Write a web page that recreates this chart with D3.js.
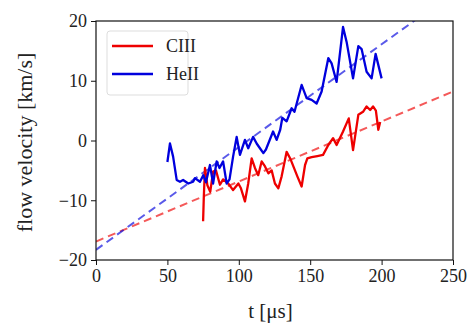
<!DOCTYPE html>
<html>
<head>
<meta charset="utf-8">
<script src="https://cdn.jsdelivr.net/npm/d3@7"></script>
<style>
  body { margin: 0; background: #fff; }
  svg text { font-family: "Liberation Serif", "DejaVu Serif", serif; fill: #222; }
</style>
</head>
<body>
<div id="chart"></div>
<script>
// CIII series
const ciiiT = [75, 75.5, 76.3, 78, 80, 82, 84, 86.8, 89, 92.6, 96, 99.7, 101.5, 104.3, 106.6, 109, 111.3, 113.6, 116, 118, 120.7, 123, 125.3, 127.7, 130, 133.5, 136, 138.5, 141, 144, 146.4, 148, 151, 155, 159, 162.7, 166, 168.5, 173, 177, 180, 183.7, 187, 189.5, 192, 194, 196, 197.7, 199]
const ciiiV = [-13.5, -9.4, -4.6, -7.5, -8.6, -5.2, -5.0, -7.4, -6.5, -7.2, -8.3, -7.2, -8.0, -10.2, -7.2, -3.0, -4.6, -5.8, -3.5, -4.2, -5.5, -5.0, -7.2, -8.0, -6.0, -1.9, -3.0, -4.5, -6.0, -7.7, -4.1, -3.0, -2.8, -2.6, -2.4, -0.75, 0.4, -0.75, 1.5, 3.7, -1.6, 4.3, 4.8, 5.7, 5.1, 5.7, 5.0, 1.8, 3.1]

// HeII series
const heiiT = [50, 51.8, 54, 56.5, 58.8, 61, 64.6, 68, 69.3, 72.8, 75.2, 77, 79.8, 82, 84.5, 86.5, 89, 91.5, 93.5, 96, 98.5, 100.8, 104.3, 106.6, 110, 112.5, 114.8, 117.2, 119, 124, 126.5, 129, 130.5, 133.5, 137, 139, 144, 147.5, 151, 154.5, 158, 162.7, 165, 168.5, 173, 175.5, 180, 183.7, 186, 189.5, 193, 195.8, 200]
const heiiV = [-3.6, -0.5, -2.7, -6.6, -6.9, -6.6, -7.2, -6.9, -6.3, -6.9, -5.8, -7.0, -4.1, -7.2, -3.5, -4.6, -3.5, -7.2, -6.5, -2.7, 0.6, -2.4, 0.1, -1.3, 0.6, -0.5, -1.3, -2.1, -1.5, 1.5, 0.1, 1.8, 3.8, 3.2, 5.4, 4.8, 9.3, 7.1, 6.8, 6.2, 8.2, 13.8, 12.9, 9.8, 19, 16.5, 10.4, 15.8, 15.3, 11.5, 10.4, 14.5, 10.4]

// linear fits (dashed)
const fitT = [0, 250]
const ciiiFit = [-16.9, 8.2]
const heiiFit = [-18.3, 24.7]

const xTicks = [0, 50, 100, 150, 200, 250]
const yTicks = [-20, -10, 0, 10, 20]
const seriesNames = ['CIII', 'HeII']
const seriesColors = ['#ee0000', '#0000dd']

const totalWidth = 472
const totalHeight = 323
const marginLeft = 96
const marginTop = 21
const width = 453 - marginLeft
const height = 260 - marginTop

const svg = d3.select('#chart')
  .append('svg')
    .attr('width', totalWidth)
    .attr('height', totalHeight)

const chart = svg.append('g')
  .attr('transform', `translate(${marginLeft},${marginTop})`)

const x = d3.scaleLinear().domain([0, 250]).range([0, width])
const y = d3.scaleLinear().domain([-20, 20]).range([height, 0])

svg.append('defs').append('clipPath')
  .attr('id', 'plot-clip')
  .append('rect')
    .attr('width', width)
    .attr('height', height)

const line = d3.line()
  .x(d => x(d[0]))
  .y(d => y(d[1]))

const plot = chart.append('g').attr('clip-path', 'url(#plot-clip)')

// fitted lines
const fits = [ciiiFit, heiiFit]
fits.forEach((f, i) => {
  plot.append('path')
    .datum(d3.zip(fitT, f))
    .attr('d', line)
    .attr('fill', 'none')
    .attr('stroke', seriesColors[i])
    .attr('stroke-opacity', 0.65)
    .attr('stroke-width', 2)
    .attr('stroke-dasharray', '8,5')
})

// data lines
const series = [d3.zip(ciiiT, ciiiV), d3.zip(heiiT, heiiV)]
series.forEach((s, i) => {
  plot.append('path')
    .datum(s)
    .attr('d', line)
    .attr('fill', 'none')
    .attr('stroke', seriesColors[i])
    .attr('stroke-width', 2.3)
    .attr('stroke-linejoin', 'round')
})

// axes
const xAxis = chart.append('g')
  .attr('transform', `translate(0,${height})`)
  .call(d3.axisBottom(x).tickValues(xTicks).tickSize(5).tickPadding(4).tickFormat(d3.format('d')))
const yAxis = chart.append('g')
  .call(d3.axisLeft(y).tickValues(yTicks).tickSize(5).tickPadding(4).tickFormat(d => d < 0 ? '\u2212' + Math.abs(d) : d))

;[xAxis, yAxis].forEach(a => {
  a.attr('font-family', null).attr('font-size', null)
  a.select('.domain').remove()
  a.selectAll('.tick line').attr('stroke', '#111').attr('stroke-width', 1)
  a.selectAll('.tick text')
    .style('font-family', '"Liberation Serif", serif')
    .style('font-size', '18px')
    .style('fill', '#222')
})

chart.append('rect')
  .attr('width', width)
  .attr('height', height)
  .attr('fill', 'none')
  .attr('stroke', '#111')
  .attr('stroke-width', 1.2)

// axis labels
svg.append('text')
  .attr('x', marginLeft + width / 2 - 4)
  .attr('y', 318)
  .attr('text-anchor', 'middle')
  .style('font-size', '21px')
  .text('t [\u03bcs]')

svg.append('text')
  .attr('transform', `translate(32,${marginTop + height / 2 + 2}) rotate(-90)`)
  .attr('text-anchor', 'middle')
  .style('font-size', '22px')
  .text('flow velocity [km/s]')

// legend
const legend = chart.append('g')
  .attr('transform', 'translate(11,10)')

legend.append('rect')
  .attr('width', 81)
  .attr('height', 64)
  .attr('rx', 3)
  .attr('fill', '#fff')
  .attr('fill-opacity', 0.8)
  .attr('stroke', '#ddd')

seriesNames.forEach((name, i) => {
  const g = legend.append('g').attr('transform', `translate(0,${15 + i * 28})`)
  g.append('line')
    .attr('x1', 5)
    .attr('x2', 46)
    .attr('stroke', seriesColors[i])
    .attr('stroke-width', 2.3)
  g.append('text')
    .attr('x', 59)
    .attr('y', 6)
    .style('font-size', '18px')
    .text(name)
})
</script>
</body>
</html>
